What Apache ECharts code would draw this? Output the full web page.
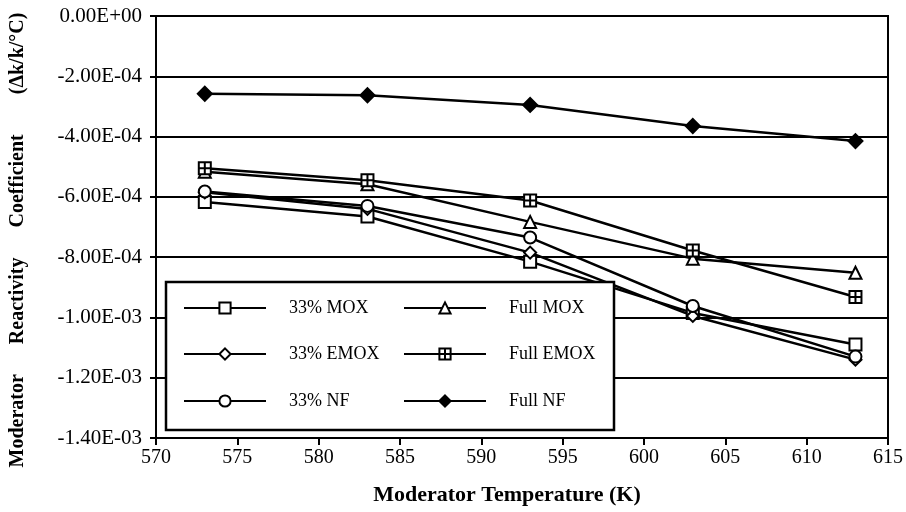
<!DOCTYPE html>
<html>
<head>
<meta charset="utf-8">
<script src="https://cdn.jsdelivr.net/npm/echarts@6/dist/echarts.min.js"></script>
<style>html,body{margin:0;padding:0;background:#fff}#c{width:906px;height:512px}</style>
</head>
<body>
<div id="c"></div>
<script>
// ---- data ----
var temps = [573, 583, 593, 603, 613];
var mox33  = [-6.17e-4, -6.65e-4, -8.15e-4, -9.85e-4, -1.09e-3];
var fullMox = [-5.17e-4, -5.58e-4, -6.83e-4, -8.05e-4, -8.52e-4];
var emox33 = [-5.85e-4, -6.40e-4, -7.85e-4, -9.95e-4, -1.14e-3];
var fullEmox = [-5.05e-4, -5.45e-4, -6.12e-4, -7.78e-4, -9.32e-4];
var nf33   = [-5.82e-4, -6.30e-4, -7.35e-4, -9.62e-4, -1.13e-3];
var fullNf = [-2.58e-4, -2.63e-4, -2.95e-4, -3.65e-4, -4.15e-4];
var seriesNames = ['33% MOX', 'Full MOX', '33% EMOX', 'Full EMOX', '33% NF', 'Full NF'];
var xTitle = 'Moderator Temperature (K)';
var yTitle = 'Moderator      Reactivity      Coefficient        (\u0394k/k/\u00B0C)';

function pairs(vals) { return temps.map(function (t, i) { return [t, vals[i]]; }); }
function fmt(v) {
  if (Math.abs(v) < 1e-12) return '0.00E+00';
  var s = v.toExponential(2).toUpperCase();
  return s.replace(/E([+-])(\d)$/, 'E$10$2');
}

var serif = '"Liberation Serif", "DejaVu Serif", serif';
var symMap = {
  '33% MOX': ['rect', '#fff'],
  'Full MOX': ['triangle', '#fff'],
  '33% EMOX': ['diamond', '#fff'],
  'Full EMOX': ['path://M0,0L10,0L10,10L0,10Z M5,0L5,10 M0,5L10,5', '#fff'],
  '33% NF': ['circle', '#fff'],
  'Full NF': ['diamond', '#000']
};
var dataMap = {
  '33% MOX': mox33, 'Full MOX': fullMox, '33% EMOX': emox33,
  'Full EMOX': fullEmox, '33% NF': nf33, 'Full NF': fullNf
};

var series = seriesNames.map(function (n) {
  return {
    name: n, type: 'line', data: pairs(dataMap[n]),
    symbol: symMap[n][0], symbolSize: n === 'Full NF' ? 14 : 12,
    lineStyle: { color: '#000', width: 2.5 },
    itemStyle: { color: symMap[n][1], borderColor: '#000', borderWidth: 2 },
    emphasis: { disabled: true }, z: 3
  };
});

var legendPos = [
  [183, 307], [403, 307],
  [183, 353], [403, 353],
  [183, 400], [403, 400]
];
var legends = seriesNames.map(function (n, i) {
  return {
    data: [n], left: legendPos[i][0], top: legendPos[i][1] - 8, padding: 0,
    itemWidth: 82, itemHeight: 14, z: 20, selectedMode: false,
    textStyle: { fontFamily: serif, fontSize: 18, color: '#000', padding: [0, 0, 0, 18] }
  };
});

var chart = echarts.init(document.getElementById('c'), null, { renderer: 'canvas' });
chart.setOption({
  animation: false,
  backgroundColor: '#fff',
  grid: { left: 155, right: 16, top: 16, bottom: 74, show: true, borderColor: '#000', borderWidth: 2, containLabel: false },
  xAxis: {
    type: 'value', min: 570, max: 615, interval: 5,
    name: xTitle, nameLocation: 'middle', nameGap: 46,
    nameTextStyle: { fontFamily: serif, fontSize: 22, fontWeight: 'bold', color: '#000', padding: [0, 30, 0, 0] },
    axisLine: { onZero: false, lineStyle: { color: '#000', width: 2 } },
    axisTick: { length: 7, lineStyle: { color: '#000', width: 2 } },
    axisLabel: { fontFamily: serif, fontSize: 20, color: '#000', margin: 10 },
    splitLine: { show: false }
  },
  yAxis: {
    type: 'value', min: -1.4e-3, max: 0, interval: 2e-4,
    name: yTitle, nameLocation: 'middle', nameGap: 128, nameRotate: 90,
    nameTextStyle: { fontFamily: serif, fontSize: 20, fontWeight: 'bold', color: '#000', padding: [0, 26, 0, 0] },
    axisLine: { onZero: false, lineStyle: { color: '#000', width: 2 } },
    axisTick: { length: 6, lineStyle: { color: '#000', width: 2 } },
    axisLabel: { fontFamily: serif, fontSize: 21, color: '#000', margin: 14, formatter: fmt },
    splitLine: { show: true, lineStyle: { color: '#000', width: 2 } }
  },
  legend: legends,
  graphic: [{
    type: 'rect', z: 10,
    shape: { x: 166, y: 282, width: 448, height: 148 },
    style: { fill: '#fff', stroke: '#000', lineWidth: 2.5 }
  }],
  series: series
});
</script>
</body>
</html>
